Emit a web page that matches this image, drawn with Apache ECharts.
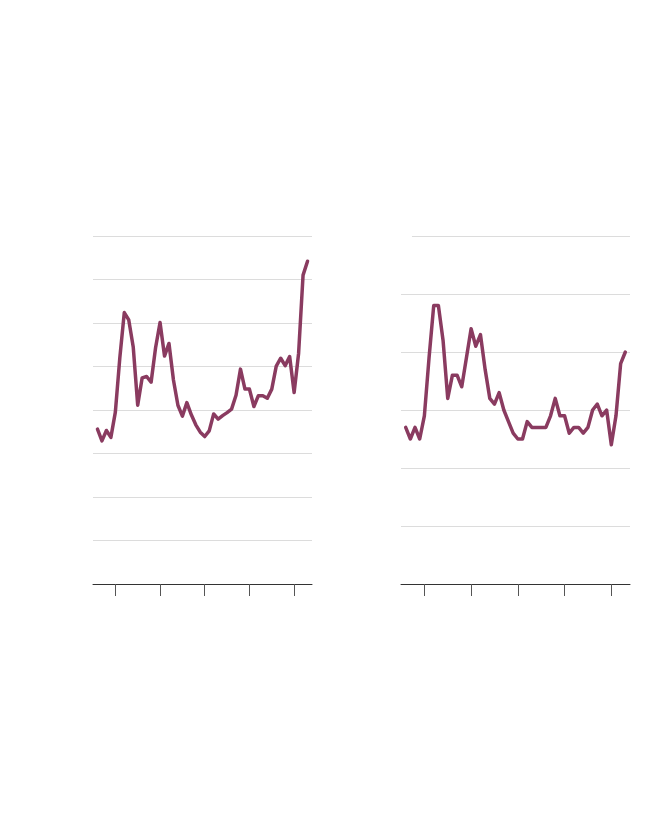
<!DOCTYPE html>
<html>
<head>
<meta charset="utf-8">
<script src="https://cdn.jsdelivr.net/npm/echarts@6/dist/echarts.min.js"></script>
<style>
html,body{margin:0;padding:0;background:#fff;}
#chart{width:670px;height:818px;}
</style>
</head>
<body>
<div id="chart"></div>
<script>
const years = [];
for (let y = 1976; y <= 2023; y++) years.push(y);
const tickYears = [1980, 1990, 2000, 2010, 2020];
const leftValues = [3.56,3.29,3.53,3.37,3.95,5.20,6.24,6.07,5.45,4.11,4.74,4.77,4.64,5.43,6.01,5.24,5.53,4.69,4.11,3.86,4.17,3.89,3.66,3.49,3.39,3.52,3.91,3.79,3.87,3.94,4.02,4.34,4.94,4.48,4.48,4.08,4.33,4.33,4.27,4.48,5.01,5.19,5.02,5.23,4.40,5.30,7.10,7.42];
const rightValues = [2.7,2.5,2.7,2.5,2.9,3.9,4.8,4.8,4.2,3.2,3.6,3.6,3.4,3.9,4.4,4.1,4.3,3.7,3.2,3.1,3.3,3.0,2.8,2.6,2.5,2.5,2.8,2.7,2.7,2.7,2.7,2.9,3.2,2.9,2.9,2.6,2.7,2.7,2.6,2.7,3.0,3.1,2.9,3.0,2.4,2.9,3.8,4.0];

const lineColor = '#8a3b60';
const grid = '#dcdcdc';

function xAxis(gridIndex) {
  return {
    type: 'value', gridIndex: gridIndex, min: 1975, max: 2024,
    axisLine: {show: true, onZero: false, lineStyle: {color: '#333', width: 1}},
    axisTick: {show: true, customValues: tickYears, length: 12, lineStyle: {color: '#555', width: 1}},
    axisLabel: {show: false},
    splitLine: {show: false}
  };
}
const chart = echarts.init(document.getElementById('chart'), null, {renderer: 'canvas'});
chart.setOption({
  animation: false,
  backgroundColor: '#fff',
  grid: [
    {left: 93, width: 219, top: 236, height: 348},
    {left: 401, width: 229, top: 236, height: 348}
  ],
  xAxis: [xAxis(0), xAxis(1)],
  yAxis: [
    {type: 'value', gridIndex: 0, min: 0, max: 8, interval: 1,
     axisLine: {show: false}, axisTick: {show: false}, axisLabel: {show: false},
     splitLine: {show: true, lineStyle: {color: grid, width: 1}}},
    {type: 'value', gridIndex: 1, min: 0, max: 6, interval: 1,
     axisLine: {show: false}, axisTick: {show: false}, axisLabel: {show: false},
     splitLine: {show: true, lineStyle: {color: [grid, grid, grid, grid, grid, grid, 'rgba(0,0,0,0)'], width: 1}}}
  ],
  series: [
    {type: 'line', xAxisIndex: 0, yAxisIndex: 0, data: years.map((y, i) => [y, leftValues[i]]),
     showSymbol: false, symbol: 'none', lineStyle: {color: lineColor, width: 3.5, join: 'round', cap: 'round'}},
    {type: 'line', xAxisIndex: 1, yAxisIndex: 1, data: years.map((y, i) => [y, rightValues[i]]),
     showSymbol: false, symbol: 'none', lineStyle: {color: lineColor, width: 3.5, join: 'round', cap: 'round'},
     markLine: {silent: true, symbol: 'none', label: {show: false},
       lineStyle: {color: grid, width: 1, type: 'solid'},
       data: [[{coord: [1977.35, 6]}, {coord: [2024, 6]}]]}}
  ]
});
</script>
</body>
</html>
